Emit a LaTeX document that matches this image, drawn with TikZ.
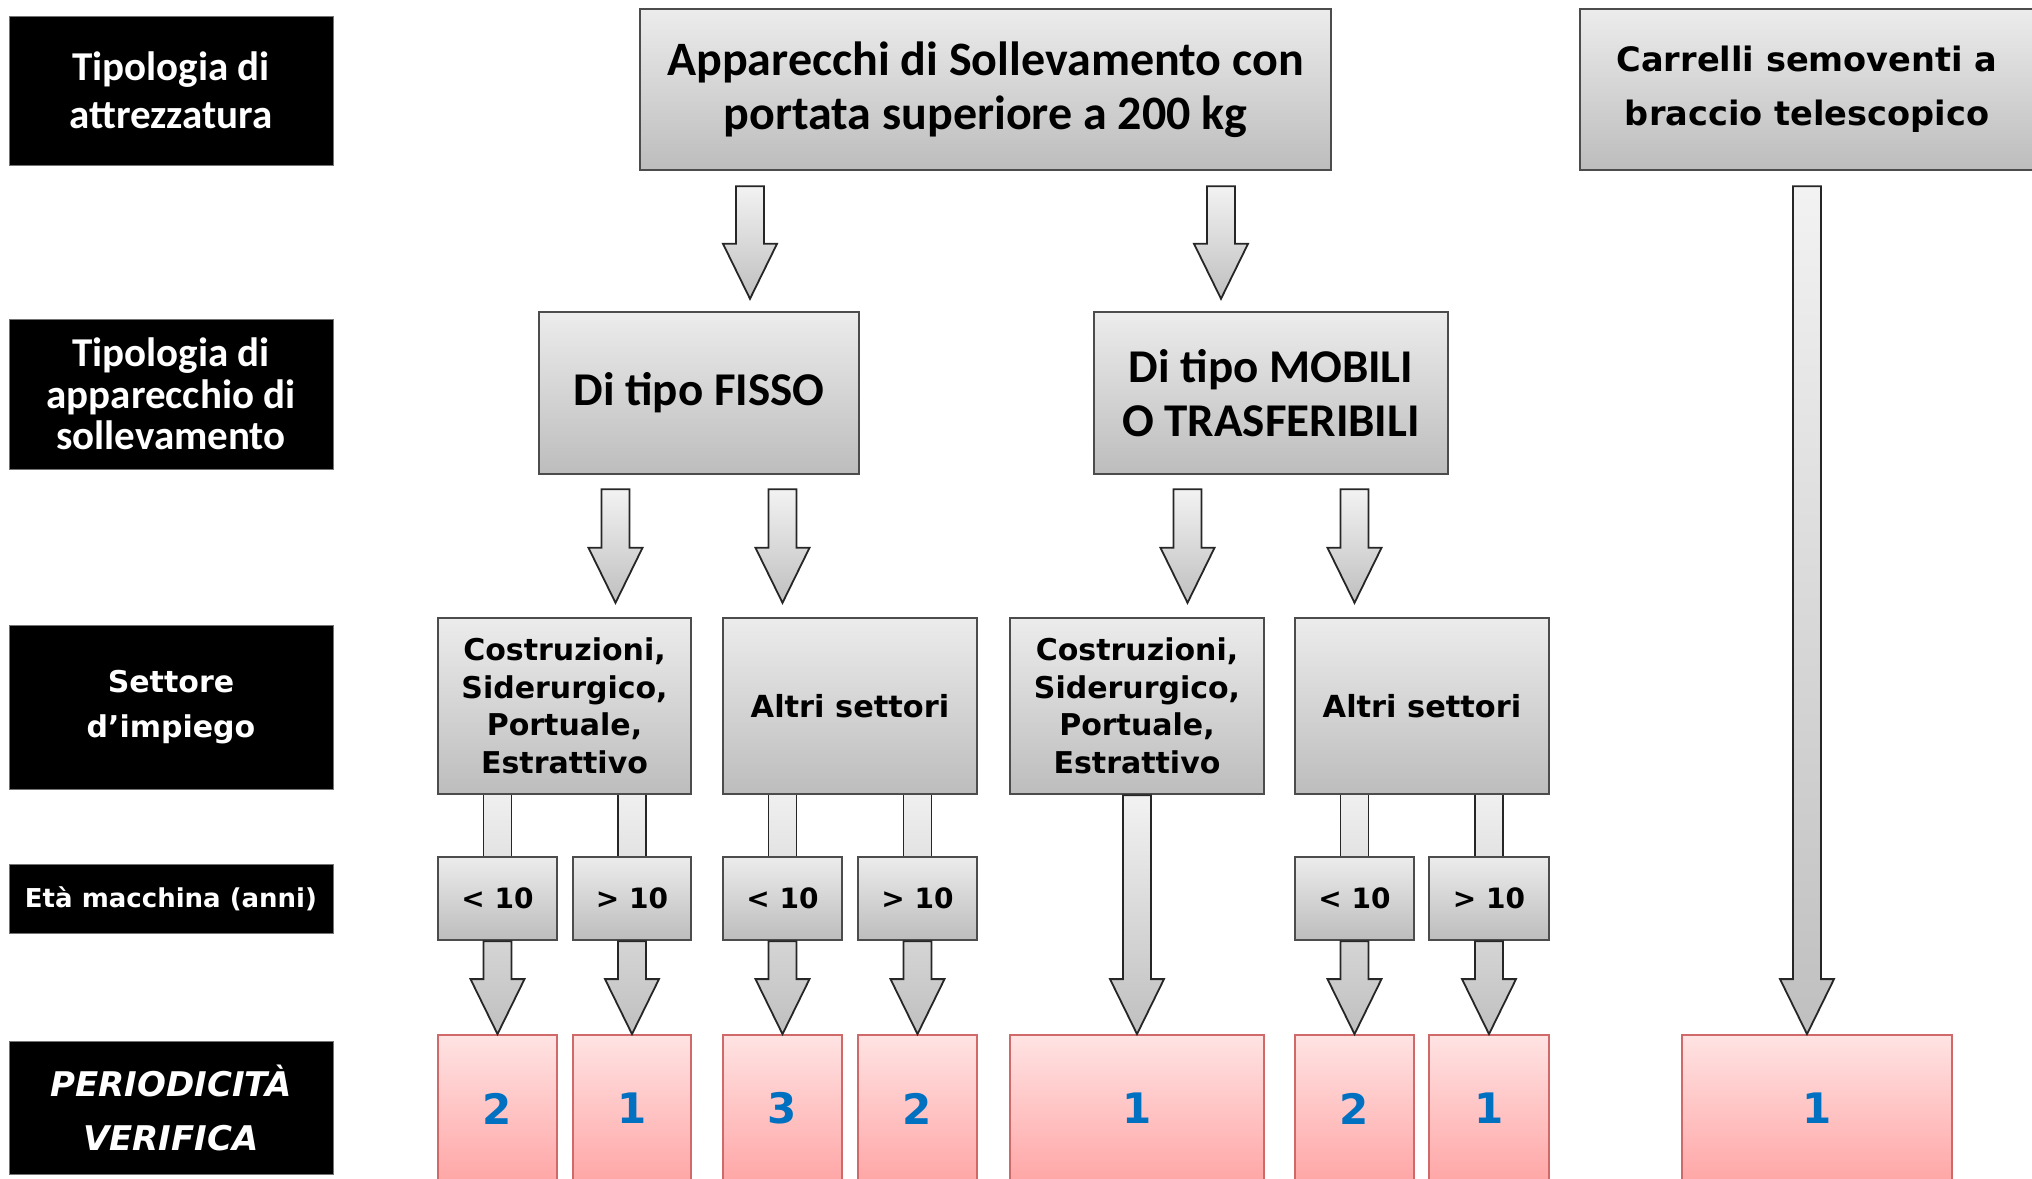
\documentclass[tikz,border=0pt]{standalone}
\usepackage{fontspec}
\setmainfont{Carlito}
\newfontfamily\vfont{DejaVu Sans}
\usetikzlibrary{calc,shadings}
\definecolor{numblue}{HTML}{0070C0}
\definecolor{pinkt}{HTML}{FFE3E3}
\definecolor{pinkb}{HTML}{FFA6A6}
\definecolor{pinkd}{HTML}{D06A6A}
\tikzset{
 lbl/.style={rectangle, fill=black, draw=black!55, line width=0.5pt, text=white, align=center, minimum width=162pt, inner sep=0pt},
 gbox/.style={rectangle, draw=black!70, line width=1.2pt, top color=gray!15, bottom color=gray!52, align=center, inner sep=0pt, text=black},
 pbox/.style={rectangle, draw=pinkd, line width=0.9pt, top color=pinkt, bottom color=pinkb, inner sep=0pt, text=numblue, font=\vfont\bfseries\fontsize{21}{24}\selectfont},
 barr/.style={draw=black!85, line width=0.9pt, line join=miter, top color=gray!10, bottom color=gray!50},
 barside/.style={draw=black!85, line width=0.9pt},
 calib/.style={font=\bfseries\fontsize{#1}{27}\selectfont},
 verd/.style={font=\vfont\bfseries\fontsize{#1}{18.75}\selectfont},
}
% block arrow: x taken from #2, from y of #3 to y of #4
\newcommand\arrdn[4][]{\path[barr,#1] let \p1=(#2), \p2=(#3), \p3=(#4) in
  (\x1-7pt,\y2) -- (\x1+7pt,\y2) -- (\x1+7pt,\y3+27.5pt) -- (\x1+13.5pt,\y3+27.5pt)
  -- (\x1,\y3) -- (\x1-13.5pt,\y3+27.5pt) -- (\x1-7pt,\y3+27.5pt) -- cycle;}
% plain shaft between two boxes (sides only)
\newcommand\bardn[3]{\path[top color=gray!12, bottom color=gray!22] let \p1=(#1), \p2=(#2), \p3=(#3) in
  (\x1-7pt,\y2) rectangle (\x1+7pt,\y3);
  \path[barside] let \p1=(#1), \p2=(#2), \p3=(#3) in
  (\x1-7pt,\y2) -- (\x1-7pt,\y3) (\x1+7pt,\y2) -- (\x1+7pt,\y3);}
\begin{document}
\begin{tikzpicture}[x=0.5pt,y=-0.5pt]
\useasboundingbox (0,0) rectangle (2032,1178);
\clip (0,0) rectangle (2032,1178);
% left labels
\node[lbl, minimum height=74.5pt, font=\bfseries\fontsize{20.5}{24}\selectfont] (t1) at (171,90.5) {Tipologia di\\attrezzatura};
\node[lbl, minimum height=75pt, font=\bfseries\fontsize{20.5}{20.75}\selectfont] (t2) at (171,394) {Tipologia di\\apparecchio di\\sollevamento};
\node[lbl, minimum height=82pt, font=\vfont\bfseries\fontsize{15}{22.5}\selectfont] (t3) at (171,707) {Settore\\d’impiego};
\node[lbl, minimum height=34.5pt, font=\vfont\bfseries\fontsize{13}{15}\selectfont] (t4) at (171,898.5) {Età macchina (anni)};
\node[lbl, minimum height=66.5pt, font=\vfont\bfseries\itshape\fontsize{17}{27}\selectfont] (t5) at (171,1107.5) {PERIODICITÀ\\VERIFICA};
% level 1
\node[gbox, calib=24, minimum width=345.5pt, minimum height=80.5pt] (app) at (985.5,89.5) {Apparecchi di Sollevamento con\\portata superiore a 200 kg};
\node[gbox, font=\vfont\bfseries\fontsize{16.8}{27}\selectfont, minimum width=227pt, minimum height=80.5pt] (car) at (1807,89.5) {Carrelli semoventi a\\braccio telescopico};
% level 2
\node[gbox, calib=23.5, minimum width=160pt, minimum height=81pt] (fis) at (699,393) {Di tipo FISSO};
\node[gbox, calib=23.5, minimum width=177pt, minimum height=81pt] (mob) at (1271,393) {Di tipo MOBILI\\O TRASFERIBILI};
% level 3
\node[gbox, verd=15, minimum width=126.5pt, minimum height=88pt] (c1) at (564.5,706) {Costruzioni,\\Siderurgico,\\Portuale,\\Estrattivo};
\node[gbox, verd=15.2, minimum width=127pt, minimum height=88pt] (a1) at (850,706) {Altri settori};
\node[gbox, verd=15, minimum width=127pt, minimum height=88pt] (c2) at (1137,706) {Costruzioni,\\Siderurgico,\\Portuale,\\Estrattivo};
\node[gbox, verd=15.2, minimum width=127pt, minimum height=88pt] (a2) at (1422,706) {Altri settori};
% level 4
\node[gbox, verd=14, minimum width=59.5pt, minimum height=41.5pt] (e1) at (497.5,898.5) {< 10};
\node[gbox, verd=14, minimum width=59pt, minimum height=41.5pt] (e2) at (632,898.5) {> 10};
\node[gbox, verd=14, minimum width=59.5pt, minimum height=41.5pt] (e3) at (782.5,898.5) {< 10};
\node[gbox, verd=14, minimum width=59.5pt, minimum height=41.5pt] (e4) at (917.5,898.5) {> 10};
\node[gbox, verd=14, minimum width=59.5pt, minimum height=41.5pt] (e5) at (1354.5,898.5) {< 10};
\node[gbox, verd=14, minimum width=60pt, minimum height=41.5pt] (e6) at (1489,898.5) {> 10};
% level 5
\node[pbox, minimum width=59.5pt, minimum height=73.5pt] (p1) at (497.5,1108.5) {2};
\node[pbox, minimum width=59pt, minimum height=73.5pt] (p2) at (632,1108.5) {1};
\node[pbox, minimum width=59.5pt, minimum height=73.5pt] (p3) at (782.5,1108.5) {3};
\node[pbox, minimum width=59.5pt, minimum height=73.5pt] (p4) at (917.5,1108.5) {2};
\node[pbox, minimum width=127pt, minimum height=73.5pt] (p5) at (1137,1108.5) {1};
\node[pbox, minimum width=59.5pt, minimum height=73.5pt] (p6) at (1354.5,1108.5) {2};
\node[pbox, minimum width=60pt, minimum height=73.5pt] (p7) at (1489,1108.5) {1};
\node[pbox, minimum width=135pt, minimum height=73.5pt] (p8) at (1817,1108.5) {1};
% connectors level 1 -> 2
\arrdn{[xshift=-117.75pt]app.south}{[yshift=-7.5pt]app.south}{[yshift=6pt]fis.north}
\arrdn{[xshift=117.75pt]app.south}{[yshift=-7.5pt]app.south}{[yshift=6pt]mob.north}
% level 2 -> 3
\arrdn{[xshift=-41.75pt]fis.south}{[yshift=-7pt]fis.south}{[yshift=7pt]c1.north}
\arrdn{[xshift=41.75pt]fis.south}{[yshift=-7pt]fis.south}{[yshift=7pt]a1.north}
\arrdn{[xshift=-41.75pt]mob.south}{[yshift=-7pt]mob.south}{[yshift=7pt]c2.north}
\arrdn{[xshift=41.75pt]mob.south}{[yshift=-7pt]mob.south}{[yshift=7pt]a2.north}
% level 3 -> 4
\bardn{e1.north}{c1.south}{e1.north}
\bardn{e2.north}{c1.south}{e2.north}
\bardn{e3.north}{a1.south}{e3.north}
\bardn{e4.north}{a1.south}{e4.north}
\bardn{e5.north}{a2.south}{e5.north}
\bardn{e6.north}{a2.south}{e6.north}
% level 4 -> 5
\arrdn[top color=gray!33, bottom color=gray!50]{e1.south}{e1.south}{p1.north}
\arrdn[top color=gray!33, bottom color=gray!50]{e2.south}{e2.south}{p2.north}
\arrdn[top color=gray!33, bottom color=gray!50]{e3.south}{e3.south}{p3.north}
\arrdn[top color=gray!33, bottom color=gray!50]{e4.south}{e4.south}{p4.north}
\arrdn[top color=gray!33, bottom color=gray!50]{e5.south}{e5.south}{p6.north}
\arrdn[top color=gray!33, bottom color=gray!50]{e6.south}{e6.south}{p7.north}
% long arrows
\arrdn{c2.south}{c2.south}{p5.north}
\arrdn{car.south}{[yshift=-7.5pt]car.south}{p8.north}
\end{tikzpicture}
\end{document}
